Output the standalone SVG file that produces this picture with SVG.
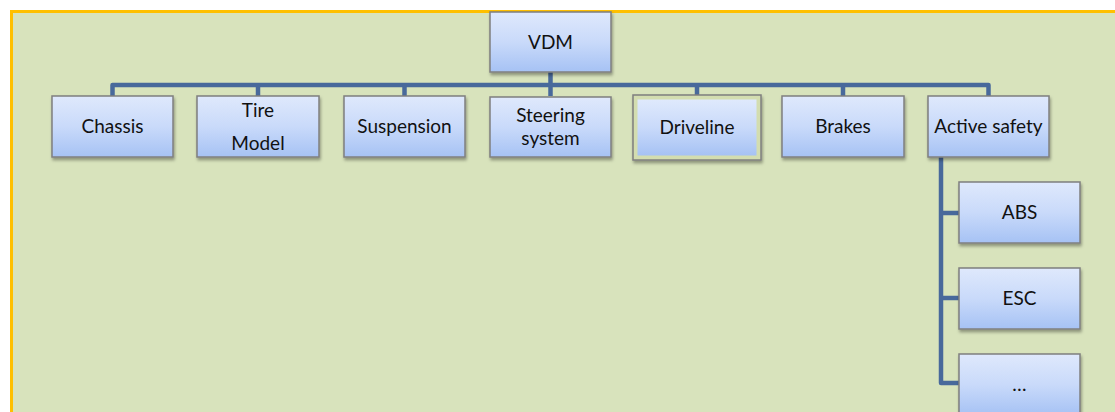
<svg xmlns="http://www.w3.org/2000/svg" width="1115" height="412" viewBox="0 0 1115 412">
  <defs>
    <linearGradient id="boxfill" x1="0" y1="0" x2="0" y2="1">
      <stop offset="0" stop-color="#dfe9fc"/>
      <stop offset="0.5" stop-color="#c9dafa"/>
      <stop offset="1" stop-color="#a6c2f4"/>
    </linearGradient>
    <filter id="shadow" x="-10%" y="-10%" width="130%" height="140%">
      <feDropShadow dx="1" dy="2.5" stdDeviation="1.5" flood-color="#000" flood-opacity="0.35"/>
    </filter>
  </defs>
  <style>
    .box { fill: url(#boxfill); stroke: #7f7f7f; stroke-width: 1.5; filter: url(#shadow); }
    .lbl { font-family: Lato, "Open Sans", "Liberation Sans", sans-serif; font-size: 19px; fill: #111; text-anchor: middle; }
    .conn { fill: none; stroke: #48699b; stroke-width: 4.5; stroke-linejoin: round; }
  </style>
  <rect x="0" y="0" width="1115" height="412" fill="#ffffff"/>
  <rect x="11" y="11" width="1110" height="410" fill="#d8e3bc"/>
  <path d="M11.5 413 V11.5 H1115" fill="none" stroke="#ffc000" stroke-width="3"/>

  <g id="connectors">
    <path class="conn" d="M550.5 72 V85"/>
    <path class="conn" d="M112.5 96 V85 H988.5 V96"/>
    <path class="conn" d="M258 85 V96 M404.5 85 V96 M550.5 85 V96 M697 85 V95 M843 85 V96"/>
    <path class="conn" d="M941 157 V383 H959 M941 213 H959 M941 298 H959"/>
  </g>

  <g id="node-vdm">
    <rect class="box" x="490" y="12" width="121" height="60"/>
    <text class="lbl" x="550.5" y="49">VDM</text>
  </g>
  <g id="node-chassis">
    <rect class="box" x="52" y="96" width="121" height="61"/>
    <text class="lbl" x="112.5" y="133">Chassis</text>
  </g>
  <g id="node-tire">
    <rect class="box" x="197" y="96" width="122" height="61"/>
    <text class="lbl" x="258" y="117">Tire</text>
    <text class="lbl" x="258" y="150">Model</text>
  </g>
  <g id="node-suspension">
    <rect class="box" x="344" y="96" width="121" height="61"/>
    <text class="lbl" x="404.5" y="133">Suspension</text>
  </g>
  <g id="node-steering">
    <rect class="box" x="490" y="97" width="121" height="60"/>
    <text class="lbl" x="550.5" y="122">Steering</text>
    <text class="lbl" x="550.5" y="145">system</text>
  </g>
  <g id="node-driveline">
    <rect class="box" x="633" y="95" width="128" height="65" style="fill:#d3ddb0"/>
    <rect x="637.5" y="99.5" width="119" height="56" fill="url(#boxfill)"/>
    <text class="lbl" x="697" y="134">Driveline</text>
  </g>
  <g id="node-brakes">
    <rect class="box" x="782" y="96" width="122" height="61"/>
    <text class="lbl" x="843" y="133">Brakes</text>
  </g>
  <g id="node-active-safety">
    <rect class="box" x="928" y="96" width="121" height="61"/>
    <text class="lbl" x="988.5" y="133">Active safety</text>
  </g>
  <g id="node-abs">
    <rect class="box" x="959" y="182" width="121" height="61"/>
    <text class="lbl" x="1019.5" y="219">ABS</text>
  </g>
  <g id="node-esc">
    <rect class="box" x="959" y="268" width="121" height="61"/>
    <text class="lbl" x="1019.5" y="305">ESC</text>
  </g>
  <g id="node-more">
    <rect class="box" x="959" y="354" width="121" height="61"/>
    <text class="lbl" x="1019.5" y="391">…</text>
  </g>
</svg>
